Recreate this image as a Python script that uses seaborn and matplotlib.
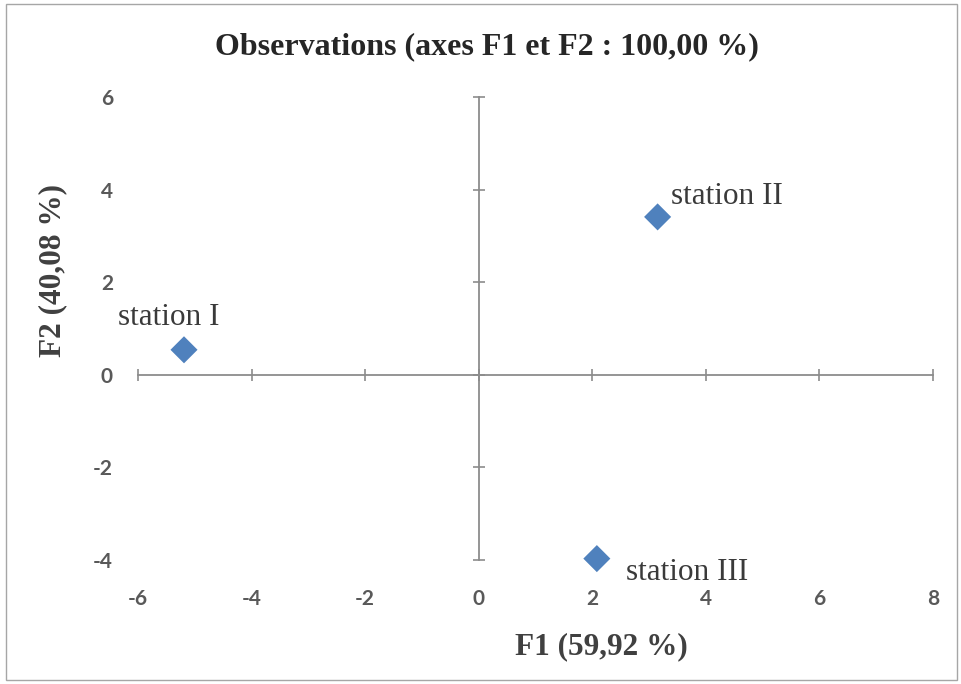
import pandas as pd
import matplotlib.pyplot as plt
import seaborn as sns
from matplotlib.patches import Rectangle


# scores of the observations on the first two factors
stations = ['station I', 'station II', 'station III']
f1_scores = [-5.19, 3.15, 2.08]
f2_scores = [0.54, 3.41, -3.97]

x_ticks = [-6, -4, -2, 0, 2, 4, 6, 8]
y_ticks = [-4, -2, 0, 2, 4, 6]

title = 'Observations (axes F1 et F2 : 100,00 %)'
x_label = 'F1 (59,92 %)'
y_label = 'F2 (40,08 %)'

# where each Excel data label sits relative to its point (pixels)
label_offsets = {
    'station I': (-15, 32, 'center', 'center'),
    'station II': (13, 20, 'left', 'center'),
    'station III': (29, -14, 'left', 'center'),
}


def plot_graph():
    data = pd.DataFrame({'station': stations, 'f1': f1_scores, 'f2': f2_scores})

    sns.set_theme(style='white')
    plt.rcParams['axes.unicode_minus'] = False
    fig = plt.figure(figsize=(9.61, 6.84), dpi=100)
    ax = fig.add_axes([0.1436, 0.1813, 0.8273, 0.6769])

    sns.scatterplot(data=data, x='f1', y='f2', marker='D', s=190,
                    color='#4F81BD', edgecolor='none', ax=ax, zorder=3,
                    clip_on=False)

    ax.set_xlim(x_ticks[0], x_ticks[-1])
    ax.set_ylim(y_ticks[0], y_ticks[-1])
    ax.set_xticks(x_ticks)
    ax.set_yticks(y_ticks)
    ax.set_xlabel('')
    ax.set_ylabel('')

    # axes crossing at the origin, Excel style
    axis_grey = '#8C8C8C'
    for side in ['top', 'right']:
        ax.spines[side].set_visible(False)
    ax.spines['bottom'].set_position(('data', 0))
    ax.spines['left'].set_position(('data', 0))
    for side in ['bottom', 'left']:
        ax.spines[side].set_color(axis_grey)
        ax.spines[side].set_linewidth(1.3)
    ax.tick_params(axis='both', direction='inout', length=9, width=1.2,
                   color=axis_grey, labelbottom=False, labelleft=False,
                   bottom=True, left=True)

    # tick labels stay at the low side of the plot area
    tick_font = dict(family='Lato', weight='bold', size=15)
    sec_x = ax.secondary_xaxis('bottom')
    sec_x.set_xticks(x_ticks)
    sec_x.tick_params(length=0, pad=21, labelcolor='#595959')
    sec_x.spines['bottom'].set_visible(False)
    for lab in sec_x.get_xticklabels():
        lab.set(**tick_font)

    sec_y = ax.secondary_yaxis('left')
    sec_y.set_yticks(y_ticks)
    sec_y.tick_params(length=0, pad=18, labelcolor='#595959')
    sec_y.spines['left'].set_visible(False)
    for lab in sec_y.get_yticklabels():
        lab.set(**tick_font)

    serif = 'Liberation Serif'
    for _, row in data.iterrows():
        dx, dy, ha, va = label_offsets[row['station']]
        ax.annotate(row['station'], (row['f1'], row['f2']),
                    xytext=(dx, dy), textcoords='offset pixels',
                    ha=ha, va=va, family=serif, size=22.5,
                    color='#3A3A3A')

    fig.text(0.507, 0.931, title, ha='center', va='center',
             family=serif, weight='bold', size=23, color='#262626')
    fig.text(0.626, 0.054, x_label, ha='center', va='center',
             family=serif, weight='bold', size=22.5, color='#404040')
    fig.text(0.055, 0.605, y_label, ha='center', va='center', rotation=90,
             family=serif, weight='bold', size=22.5, color='#404040')

    # chart frame
    fig.patches.append(Rectangle((0.006, 0.006), 0.99, 0.988,
                                 transform=fig.transFigure, fill=False,
                                 edgecolor='#A6A6A6', linewidth=1.0))

    fig.savefig('out.png', dpi=100)
    plt.close(fig)


def main():
    plot_graph()


if __name__ == '__main__':
    main()
